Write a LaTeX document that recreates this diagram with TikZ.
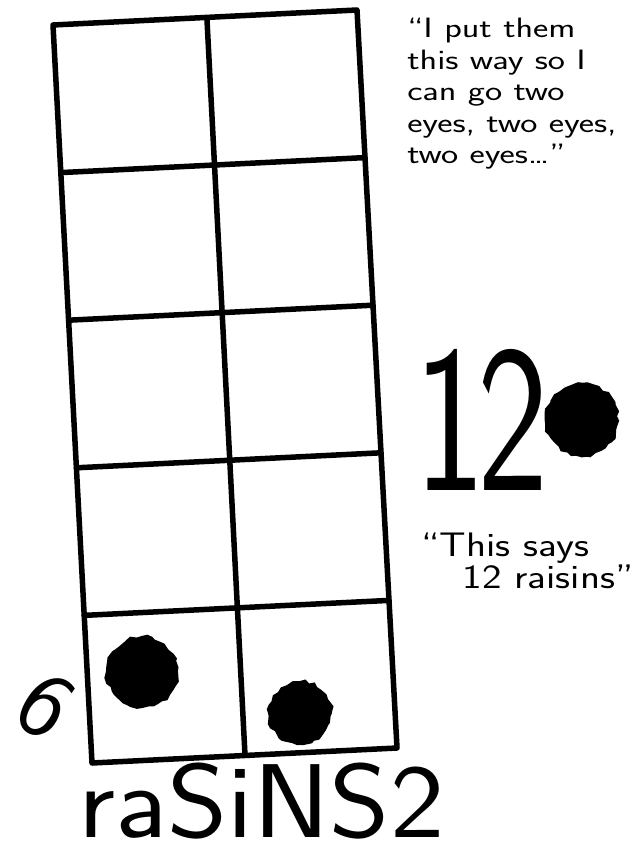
\documentclass[tikz,border=0pt]{standalone}
\usepackage{fontspec}
\usetikzlibrary{calc,decorations.pathmorphing}

\tikzset{
  frameline/.style={line width=5.5pt, line cap=round, line join=round},
  raisin/.style={fill=black, draw=black, line width=1.5pt,
    decorate, decoration={random steps, segment length=5pt, amplitude=2pt}},
  hand/.style={font=\sffamily\fontsize{#1}{31.5}\selectfont, align=left, inner sep=0pt},
  bighand/.style={font=\sffamily\fontsize{#1}{#1}\selectfont, inner sep=0pt},
}

\begin{document}
\begin{tikzpicture}[x=1pt, y=-1pt]
    \useasboundingbox (0,0) rectangle (641,858);

    % corners of the ten frame
    \coordinate (tl) at (53,25);
    \coordinate (tr) at (357,10);
    \coordinate (bl) at (92,763);
    \coordinate (br) at (397,748);
    \coordinate (mt) at (207,20);
    \coordinate (mb) at (245,755);

    % outline, middle line and the rows
    \draw[frameline] (tl) -- (tr) -- (br) -- (bl) -- cycle;
    \draw[frameline] (mt) -- (mb);
    \foreach \i in {1,...,4}
        \draw[frameline] ($(tl)!\i/5!(bl)$) -- ($(tr)!\i/5!(br)$);

    % raisins
    \filldraw[raisin] (142,672) circle (35pt);
    \filldraw[raisin] (300,713) circle (31pt);
    \filldraw[raisin] (582,420) circle (36pt);

    % numbers and words
    \node[bighand=95, rotate=-35] (six) at (46,706) {6};
    \node[bighand=210, xscale=0.72, anchor=base west] (twelve) at (414,490) {1\kern-0.05em 2};
    \node[bighand=105, xscale=1.1, anchor=base west] (word) at (78,837) {raSiNS2};

    % quotes
    \node[hand=28, xscale=1.3, anchor=north west] (eyes) at (407,18)
        {``I put them\\this way so I\\can go two\\eyes, two eyes,\\two eyes\dots''};
    \node[hand=34, xscale=1.22, anchor=north west] (says) at (421,533)
        {``This says\\\hspace*{1em}12 raisins''};
\end{tikzpicture}
\end{document}
